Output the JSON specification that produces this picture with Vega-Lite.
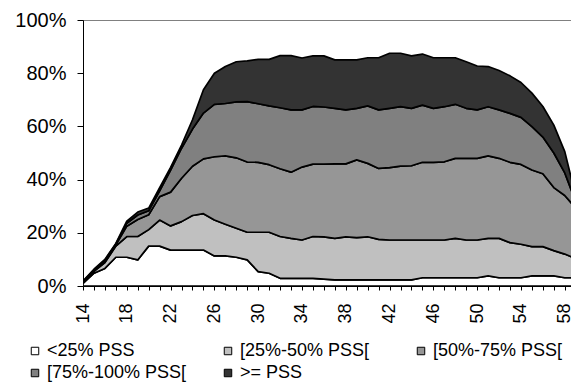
{
  "$schema": "https://vega.github.io/schema/vega-lite/v6.json",
  "width": 490,
  "height": 266,
  "autosize": {"type": "none"},
  "padding": {"left": 83, "top": 20, "right": 0, "bottom": 99},
  "background": "#ffffff",
  "config": {
    "font": "Liberation Sans",
    "view": {"stroke": "#808080", "strokeWidth": 1},
    "axis": {"labelColor": "#000000", "tickColor": "#000000", "domainColor": "#000000", "grid": false, "labelFont": "Liberation Sans"},
    "legend": {"labelFont": "Liberation Sans", "labelColor": "#000000"}
  },
  "data": {"values": [
    {"x":14,"c":"<25% PSS","k":1,"v":1.0},{"x":14,"c":"[25%-50% PSS[","k":2,"v":0.3},{"x":14,"c":"[50%-75% PSS[","k":3,"v":0.2},{"x":14,"c":"[75%-100% PSS[","k":4,"v":0.2},{"x":14,"c":">= PSS","k":5,"v":0.2},
    {"x":15,"c":"<25% PSS","k":1,"v":4.8},{"x":15,"c":"[25%-50% PSS[","k":2,"v":0.7},{"x":15,"c":"[50%-75% PSS[","k":3,"v":0.4},{"x":15,"c":"[75%-100% PSS[","k":4,"v":0.2},{"x":15,"c":">= PSS","k":5,"v":0.2},
    {"x":16,"c":"<25% PSS","k":1,"v":6.6},{"x":16,"c":"[25%-50% PSS[","k":2,"v":2.2},{"x":16,"c":"[50%-75% PSS[","k":3,"v":0.6},{"x":16,"c":"[75%-100% PSS[","k":4,"v":0.3},{"x":16,"c":">= PSS","k":5,"v":0.3},
    {"x":17,"c":"<25% PSS","k":1,"v":10.8},{"x":17,"c":"[25%-50% PSS[","k":2,"v":4.2},{"x":17,"c":"[50%-75% PSS[","k":3,"v":0.5},{"x":17,"c":"[75%-100% PSS[","k":4,"v":0.3},{"x":17,"c":">= PSS","k":5,"v":0.2},
    {"x":18,"c":"<25% PSS","k":1,"v":10.8},{"x":18,"c":"[25%-50% PSS[","k":2,"v":7.8},{"x":18,"c":"[50%-75% PSS[","k":3,"v":3.9},{"x":18,"c":"[75%-100% PSS[","k":4,"v":1.1},{"x":18,"c":">= PSS","k":5,"v":0.8},
    {"x":19,"c":"<25% PSS","k":1,"v":9.8},{"x":19,"c":"[25%-50% PSS[","k":2,"v":8.8},{"x":19,"c":"[50%-75% PSS[","k":3,"v":6.4},{"x":19,"c":"[75%-100% PSS[","k":4,"v":1.7},{"x":19,"c":">= PSS","k":5,"v":1.1},
    {"x":20,"c":"<25% PSS","k":1,"v":15.0},{"x":20,"c":"[25%-50% PSS[","k":2,"v":6.2},{"x":20,"c":"[50%-75% PSS[","k":3,"v":5.6},{"x":20,"c":"[75%-100% PSS[","k":4,"v":1.5},{"x":20,"c":">= PSS","k":5,"v":1.0},
    {"x":21,"c":"<25% PSS","k":1,"v":15.0},{"x":21,"c":"[25%-50% PSS[","k":2,"v":9.8},{"x":21,"c":"[50%-75% PSS[","k":3,"v":8.8},{"x":21,"c":"[75%-100% PSS[","k":4,"v":2.2},{"x":21,"c":">= PSS","k":5,"v":1.2},
    {"x":22,"c":"<25% PSS","k":1,"v":13.5},{"x":22,"c":"[25%-50% PSS[","k":2,"v":9.1},{"x":22,"c":"[50%-75% PSS[","k":3,"v":12.7},{"x":22,"c":"[75%-100% PSS[","k":4,"v":8.3},{"x":22,"c":">= PSS","k":5,"v":1.0},
    {"x":23,"c":"<25% PSS","k":1,"v":13.5},{"x":23,"c":"[25%-50% PSS[","k":2,"v":10.7},{"x":23,"c":"[50%-75% PSS[","k":3,"v":16.3},{"x":23,"c":"[75%-100% PSS[","k":4,"v":11.3},{"x":23,"c":">= PSS","k":5,"v":1.2},
    {"x":24,"c":"<25% PSS","k":1,"v":13.5},{"x":24,"c":"[25%-50% PSS[","k":2,"v":13.0},{"x":24,"c":"[50%-75% PSS[","k":3,"v":18.5},{"x":24,"c":"[75%-100% PSS[","k":4,"v":14.0},{"x":24,"c":">= PSS","k":5,"v":3.5},
    {"x":25,"c":"<25% PSS","k":1,"v":13.5},{"x":25,"c":"[25%-50% PSS[","k":2,"v":13.7},{"x":25,"c":"[50%-75% PSS[","k":3,"v":20.6},{"x":25,"c":"[75%-100% PSS[","k":4,"v":17.2},{"x":25,"c":">= PSS","k":5,"v":8.8},
    {"x":26,"c":"<25% PSS","k":1,"v":11.3},{"x":26,"c":"[25%-50% PSS[","k":2,"v":13.5},{"x":26,"c":"[50%-75% PSS[","k":3,"v":23.8},{"x":26,"c":"[75%-100% PSS[","k":4,"v":19.7},{"x":26,"c":">= PSS","k":5,"v":11.7},
    {"x":27,"c":"<25% PSS","k":1,"v":11.3},{"x":27,"c":"[25%-50% PSS[","k":2,"v":11.9},{"x":27,"c":"[50%-75% PSS[","k":3,"v":25.7},{"x":27,"c":"[75%-100% PSS[","k":4,"v":19.7},{"x":27,"c":">= PSS","k":5,"v":13.9},
    {"x":28,"c":"<25% PSS","k":1,"v":10.8},{"x":28,"c":"[25%-50% PSS[","k":2,"v":10.9},{"x":28,"c":"[50%-75% PSS[","k":3,"v":26.5},{"x":28,"c":"[75%-100% PSS[","k":4,"v":21.0},{"x":28,"c":">= PSS","k":5,"v":15.1},
    {"x":29,"c":"<25% PSS","k":1,"v":9.8},{"x":29,"c":"[25%-50% PSS[","k":2,"v":10.4},{"x":29,"c":"[50%-75% PSS[","k":3,"v":26.4},{"x":29,"c":"[75%-100% PSS[","k":4,"v":22.7},{"x":29,"c":">= PSS","k":5,"v":15.3},
    {"x":30,"c":"<25% PSS","k":1,"v":5.4},{"x":30,"c":"[25%-50% PSS[","k":2,"v":14.8},{"x":30,"c":"[50%-75% PSS[","k":3,"v":26.3},{"x":30,"c":"[75%-100% PSS[","k":4,"v":22.0},{"x":30,"c":">= PSS","k":5,"v":16.7},
    {"x":31,"c":"<25% PSS","k":1,"v":4.8},{"x":31,"c":"[25%-50% PSS[","k":2,"v":15.4},{"x":31,"c":"[50%-75% PSS[","k":3,"v":25.4},{"x":31,"c":"[75%-100% PSS[","k":4,"v":22.1},{"x":31,"c":">= PSS","k":5,"v":17.5},
    {"x":32,"c":"<25% PSS","k":1,"v":2.9},{"x":32,"c":"[25%-50% PSS[","k":2,"v":15.7},{"x":32,"c":"[50%-75% PSS[","k":3,"v":25.5},{"x":32,"c":"[75%-100% PSS[","k":4,"v":22.9},{"x":32,"c":">= PSS","k":5,"v":19.6},
    {"x":33,"c":"<25% PSS","k":1,"v":2.9},{"x":33,"c":"[25%-50% PSS[","k":2,"v":15.0},{"x":33,"c":"[50%-75% PSS[","k":3,"v":24.9},{"x":33,"c":"[75%-100% PSS[","k":4,"v":23.4},{"x":33,"c":">= PSS","k":5,"v":20.4},
    {"x":34,"c":"<25% PSS","k":1,"v":2.9},{"x":34,"c":"[25%-50% PSS[","k":2,"v":14.4},{"x":34,"c":"[50%-75% PSS[","k":3,"v":27.4},{"x":34,"c":"[75%-100% PSS[","k":4,"v":21.5},{"x":34,"c":">= PSS","k":5,"v":19.5},
    {"x":35,"c":"<25% PSS","k":1,"v":2.9},{"x":35,"c":"[25%-50% PSS[","k":2,"v":15.7},{"x":35,"c":"[50%-75% PSS[","k":3,"v":27.2},{"x":35,"c":"[75%-100% PSS[","k":4,"v":21.7},{"x":35,"c":">= PSS","k":5,"v":19.0},
    {"x":36,"c":"<25% PSS","k":1,"v":2.6},{"x":36,"c":"[25%-50% PSS[","k":2,"v":15.9},{"x":36,"c":"[50%-75% PSS[","k":3,"v":27.3},{"x":36,"c":"[75%-100% PSS[","k":4,"v":21.5},{"x":36,"c":">= PSS","k":5,"v":19.2},
    {"x":37,"c":"<25% PSS","k":1,"v":2.3},{"x":37,"c":"[25%-50% PSS[","k":2,"v":15.6},{"x":37,"c":"[50%-75% PSS[","k":3,"v":28.0},{"x":37,"c":"[75%-100% PSS[","k":4,"v":20.9},{"x":37,"c":">= PSS","k":5,"v":18.2},
    {"x":38,"c":"<25% PSS","k":1,"v":2.3},{"x":38,"c":"[25%-50% PSS[","k":2,"v":16.2},{"x":38,"c":"[50%-75% PSS[","k":3,"v":27.4},{"x":38,"c":"[75%-100% PSS[","k":4,"v":20.3},{"x":38,"c":">= PSS","k":5,"v":18.8},
    {"x":39,"c":"<25% PSS","k":1,"v":2.3},{"x":39,"c":"[25%-50% PSS[","k":2,"v":15.9},{"x":39,"c":"[50%-75% PSS[","k":3,"v":29.2},{"x":39,"c":"[75%-100% PSS[","k":4,"v":19.4},{"x":39,"c":">= PSS","k":5,"v":18.2},
    {"x":40,"c":"<25% PSS","k":1,"v":2.3},{"x":40,"c":"[25%-50% PSS[","k":2,"v":16.2},{"x":40,"c":"[50%-75% PSS[","k":3,"v":27.6},{"x":40,"c":"[75%-100% PSS[","k":4,"v":21.6},{"x":40,"c":">= PSS","k":5,"v":18.1},
    {"x":41,"c":"<25% PSS","k":1,"v":2.3},{"x":41,"c":"[25%-50% PSS[","k":2,"v":15.2},{"x":41,"c":"[50%-75% PSS[","k":3,"v":26.7},{"x":41,"c":"[75%-100% PSS[","k":4,"v":22.0},{"x":41,"c":">= PSS","k":5,"v":19.6},
    {"x":42,"c":"<25% PSS","k":1,"v":2.3},{"x":42,"c":"[25%-50% PSS[","k":2,"v":15.0},{"x":42,"c":"[50%-75% PSS[","k":3,"v":27.2},{"x":42,"c":"[75%-100% PSS[","k":4,"v":22.3},{"x":42,"c":">= PSS","k":5,"v":20.7},
    {"x":43,"c":"<25% PSS","k":1,"v":2.3},{"x":43,"c":"[25%-50% PSS[","k":2,"v":15.0},{"x":43,"c":"[50%-75% PSS[","k":3,"v":27.8},{"x":43,"c":"[75%-100% PSS[","k":4,"v":22.3},{"x":43,"c":">= PSS","k":5,"v":20.1},
    {"x":44,"c":"<25% PSS","k":1,"v":2.3},{"x":44,"c":"[25%-50% PSS[","k":2,"v":15.0},{"x":44,"c":"[50%-75% PSS[","k":3,"v":27.9},{"x":44,"c":"[75%-100% PSS[","k":4,"v":21.6},{"x":44,"c":">= PSS","k":5,"v":19.7},
    {"x":45,"c":"<25% PSS","k":1,"v":3.1},{"x":45,"c":"[25%-50% PSS[","k":2,"v":14.2},{"x":45,"c":"[50%-75% PSS[","k":3,"v":29.2},{"x":45,"c":"[75%-100% PSS[","k":4,"v":21.5},{"x":45,"c":">= PSS","k":5,"v":19.2},
    {"x":46,"c":"<25% PSS","k":1,"v":3.1},{"x":46,"c":"[25%-50% PSS[","k":2,"v":14.2},{"x":46,"c":"[50%-75% PSS[","k":3,"v":29.2},{"x":46,"c":"[75%-100% PSS[","k":4,"v":20.3},{"x":46,"c":">= PSS","k":5,"v":19.0},
    {"x":47,"c":"<25% PSS","k":1,"v":3.1},{"x":47,"c":"[25%-50% PSS[","k":2,"v":14.2},{"x":47,"c":"[50%-75% PSS[","k":3,"v":29.4},{"x":47,"c":"[75%-100% PSS[","k":4,"v":20.7},{"x":47,"c":">= PSS","k":5,"v":18.4},
    {"x":48,"c":"<25% PSS","k":1,"v":3.1},{"x":48,"c":"[25%-50% PSS[","k":2,"v":14.8},{"x":48,"c":"[50%-75% PSS[","k":3,"v":30.1},{"x":48,"c":"[75%-100% PSS[","k":4,"v":20.3},{"x":48,"c":">= PSS","k":5,"v":17.5},
    {"x":49,"c":"<25% PSS","k":1,"v":3.1},{"x":49,"c":"[25%-50% PSS[","k":2,"v":14.2},{"x":49,"c":"[50%-75% PSS[","k":3,"v":30.7},{"x":49,"c":"[75%-100% PSS[","k":4,"v":18.8},{"x":49,"c":">= PSS","k":5,"v":17.5},
    {"x":50,"c":"<25% PSS","k":1,"v":3.1},{"x":50,"c":"[25%-50% PSS[","k":2,"v":14.2},{"x":50,"c":"[50%-75% PSS[","k":3,"v":30.7},{"x":50,"c":"[75%-100% PSS[","k":4,"v":18.2},{"x":50,"c":">= PSS","k":5,"v":16.5},
    {"x":51,"c":"<25% PSS","k":1,"v":3.8},{"x":51,"c":"[25%-50% PSS[","k":2,"v":14.1},{"x":51,"c":"[50%-75% PSS[","k":3,"v":31.0},{"x":51,"c":"[75%-100% PSS[","k":4,"v":18.5},{"x":51,"c":">= PSS","k":5,"v":15.1},
    {"x":52,"c":"<25% PSS","k":1,"v":3.1},{"x":52,"c":"[25%-50% PSS[","k":2,"v":14.8},{"x":52,"c":"[50%-75% PSS[","k":3,"v":30.1},{"x":52,"c":"[75%-100% PSS[","k":4,"v":18.2},{"x":52,"c":">= PSS","k":5,"v":14.8},
    {"x":53,"c":"<25% PSS","k":1,"v":3.1},{"x":53,"c":"[25%-50% PSS[","k":2,"v":13.2},{"x":53,"c":"[50%-75% PSS[","k":3,"v":30.2},{"x":53,"c":"[75%-100% PSS[","k":4,"v":18.4},{"x":53,"c":">= PSS","k":5,"v":14.1},
    {"x":54,"c":"<25% PSS","k":1,"v":3.1},{"x":54,"c":"[25%-50% PSS[","k":2,"v":12.6},{"x":54,"c":"[50%-75% PSS[","k":3,"v":30.0},{"x":54,"c":"[75%-100% PSS[","k":4,"v":17.7},{"x":54,"c":">= PSS","k":5,"v":13.1},
    {"x":55,"c":"<25% PSS","k":1,"v":3.8},{"x":55,"c":"[25%-50% PSS[","k":2,"v":11.0},{"x":55,"c":"[50%-75% PSS[","k":3,"v":28.8},{"x":55,"c":"[75%-100% PSS[","k":4,"v":16.3},{"x":55,"c":">= PSS","k":5,"v":12.6},
    {"x":56,"c":"<25% PSS","k":1,"v":3.8},{"x":56,"c":"[25%-50% PSS[","k":2,"v":11.0},{"x":56,"c":"[50%-75% PSS[","k":3,"v":27.4},{"x":56,"c":"[75%-100% PSS[","k":4,"v":13.8},{"x":56,"c":">= PSS","k":5,"v":11.5},
    {"x":57,"c":"<25% PSS","k":1,"v":3.8},{"x":57,"c":"[25%-50% PSS[","k":2,"v":9.5},{"x":57,"c":"[50%-75% PSS[","k":3,"v":23.7},{"x":57,"c":"[75%-100% PSS[","k":4,"v":13.0},{"x":57,"c":">= PSS","k":5,"v":10.5},
    {"x":58,"c":"<25% PSS","k":1,"v":3.1},{"x":58,"c":"[25%-50% PSS[","k":2,"v":8.9},{"x":58,"c":"[50%-75% PSS[","k":3,"v":22.0},{"x":58,"c":"[75%-100% PSS[","k":4,"v":8.5},{"x":58,"c":">= PSS","k":5,"v":8.0},
    {"x":59,"c":"<25% PSS","k":1,"v":3.1},{"x":59,"c":"[25%-50% PSS[","k":2,"v":7.2},{"x":59,"c":"[50%-75% PSS[","k":3,"v":19.0},{"x":59,"c":"[75%-100% PSS[","k":4,"v":2.4},{"x":59,"c":">= PSS","k":5,"v":2.1}
  ]},
  "mark": {"type": "area", "stroke": "#000000", "strokeWidth": 1.7, "strokeJoin": "round", "clip": true},
  "encoding": {
    "x": {
      "field": "x", "type": "quantitative",
      "scale": {"domain": [14, 58.75], "nice": false, "zero": false},
      "axis": {
        "title": null,
        "values": [14,15,16,17,18,19,20,21,22,23,24,25,26,27,28,29,30,31,32,33,34,35,36,37,38,39,40,41,42,43,44,45,46,47,48,49,50,51,52,53,54,55,56,57,58],
        "labelExpr": "(datum.value - 14) % 4 == 0 ? datum.value : ''",
        "labelAngle": -90, "labelFontSize": 18, "labelPadding": 13, "tickSize": 4,
        "labelFlush": false, "labelOverlap": false, "labelBound": false
      }
    },
    "y": {
      "field": "v", "type": "quantitative", "stack": "zero",
      "scale": {"domain": [0, 100], "nice": false},
      "axis": {
        "title": null, "values": [0, 20, 40, 60, 80, 100],
        "labelExpr": "datum.value + '%'",
        "labelFontSize": 20, "labelPadding": 11, "tickSize": 6,
        "labelFlush": false, "labelOverlap": false
      }
    },
    "color": {
      "field": "c", "type": "nominal",
      "scale": {
        "domain": ["<25% PSS", "[25%-50% PSS[", "[50%-75% PSS[", "[75%-100% PSS[", ">= PSS"],
        "range": ["#ffffff", "#c0c0c0", "#969696", "#808080", "#333333"]
      },
      "legend": {
        "title": null, "orient": "none", "legendX": -57, "legendY": 322,
        "direction": "horizontal", "columns": 3, "gridAlign": "all",
        "columnPadding": 32, "rowPadding": 4,
        "symbolType": "square", "symbolSize": 56, "symbolStrokeColor": "#000000", "symbolStrokeWidth": 1,
        "labelFontSize": 18, "labelOffset": 3, "labelLimit": 300
      }
    },
    "order": {"field": "k", "type": "quantitative", "sort": "ascending"}
  }
}
